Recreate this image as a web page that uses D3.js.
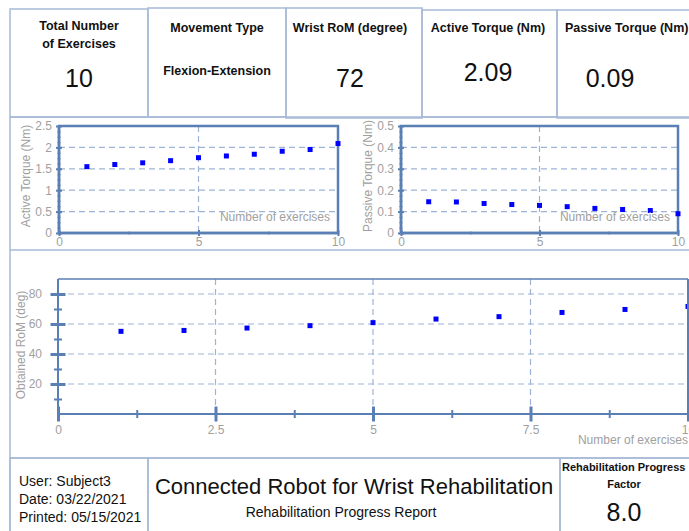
<!DOCTYPE html>
<html>
<head>
<meta charset="utf-8">
<script src="https://cdn.jsdelivr.net/npm/d3@7"></script>
<style>
  body { margin: 0; background: #fff; }
  text { font-family: "Liberation Sans", Arial, sans-serif; }
</style>
</head>
<body>
<div id="container"></div>
<script>
let width = 689;
let height = 531;

// data
let exercises = [1, 2, 3, 4, 5, 6, 7, 8, 9, 10];
let activeTorque = [1.55, 1.60, 1.64, 1.69, 1.76, 1.80, 1.84, 1.91, 1.95, 2.09];
let passiveTorque = [0.146, 0.145, 0.138, 0.133, 0.129, 0.123, 0.115, 0.110, 0.105, 0.090];
let obtainedRom = [55.1, 55.7, 57.3, 58.9, 60.9, 63.3, 64.9, 67.7, 69.7, 71.7];

let cardTitles = [["Total Number", "of Exercises"], ["Movement Type"], ["Wrist RoM (degree)"], ["Active Torque (Nm)"], ["Passive Torque (Nm)"]];
let cardValues = ["10", "Flexion-Extension", "72", "2.09", "0.09"];
let userInfo = ["User: Subject3", "Date: 03/22/2021", "Printed: 05/15/2021"];

let boxColor = '#a7bad6';
let axisColor = '#5a7fb4';
let gridColor = '#9db4d6';
let labelColor = '#a0a0a0';

let svg = d3.select("#container")
    .append("svg")
    .attr("width", width)
    .attr("height", height);

// ---- top cards
let cards = [
    { x0: 10, x1: 148, y0: 9, y1: 117 },
    { x0: 148, x1: 286, y0: 8, y1: 117 },
    { x0: 286, x1: 422, y0: 8, y1: 118 },
    { x0: 422, x1: 557, y0: 10, y1: 117 },
    { x0: 557, x1: 700, y0: 10, y1: 118 }
];
let centers = [79, 217, 350, 488, 610];

cards.forEach((c, i) => {
    svg.append('rect')
        .attr('x', c.x0).attr('y', c.y0)
        .attr('width', c.x1 - c.x0).attr('height', c.y1 - c.y0)
        .attr('fill', 'none').attr('stroke', boxColor).attr('stroke-width', 1.5);
    let lines = cardTitles[i];
    lines.forEach((t, j) => {
        svg.append('text')
            .attr('x', i == 4 ? 565 : centers[i])
            .attr('y', (lines.length > 1 ? 30 : 32) + j * 18)
            .attr('text-anchor', i == 4 ? 'start' : 'middle')
            .attr('font-size', 12.5).attr('font-weight', 'bold').attr('fill', '#111')
            .text(t);
    });
    svg.append('text')
        .attr('x', centers[i])
        .attr('y', i == 1 ? 75 : (i == 3 ? 81 : 87))
        .attr('text-anchor', 'middle')
        .attr('font-size', i == 1 ? 12.5 : 25)
        .attr('font-weight', i == 1 ? 'bold' : 'normal')
        .attr('fill', '#111')
        .text(cardValues[i]);
});

// ---- frame lines
svg.append('line').attr('x1', 10).attr('x2', 10).attr('y1', 117).attr('y2', 531)
    .attr('stroke', boxColor).attr('stroke-width', 1.5);
[117, 250, 458].forEach(y => {
    svg.append('line').attr('x1', 10).attr('x2', 689).attr('y1', y).attr('y2', y)
        .attr('stroke', boxColor).attr('stroke-width', 1.5);
});

// ---- chart helper
function drawChart(cfg) {
    let x = d3.scaleLinear().domain(cfg.xDomain).range([cfg.left, cfg.right]);
    let y = d3.scaleLinear().domain(cfg.yDomain).range([cfg.bottom, cfg.top]);
    let g = svg.append('g');

    // grid
    g.selectAll('.hgrid').data(cfg.yGrid).enter().append('line')
        .attr('x1', cfg.left).attr('x2', cfg.right)
        .attr('y1', d => y(d)).attr('y2', d => y(d))
        .attr('stroke', gridColor).attr('stroke-width', 1.2).attr('stroke-dasharray', '6,4');
    g.selectAll('.vgrid').data(cfg.xGrid).enter().append('line')
        .attr('x1', d => x(d)).attr('x2', d => x(d))
        .attr('y1', cfg.top).attr('y2', cfg.bottom)
        .attr('stroke', gridColor).attr('stroke-width', 1.2).attr('stroke-dasharray', '6,4');

    // frame
    if (cfg.box) {
        g.append('rect')
            .attr('x', cfg.left).attr('y', cfg.top)
            .attr('width', cfg.right - cfg.left).attr('height', cfg.bottom - cfg.top)
            .attr('fill', 'none').attr('stroke', axisColor).attr('stroke-width', cfg.frameW);
    }

    // minor ticks
    let yMinor = d3.axisLeft(y).tickValues(cfg.yMinor).tickSize(cfg.minorLen).tickFormat('');
    g.append('g').attr('transform', `translate(${cfg.left + cfg.minorLen / 2},0)`).call(yMinor)
        .call(a => a.select('.domain').remove())
        .selectAll('line').attr('stroke', axisColor).attr('stroke-width', cfg.minorW);
    let xMinor = d3.axisBottom(x).tickValues(cfg.xMinor).tickSize(cfg.minorLen).tickFormat('');
    g.append('g').attr('transform', `translate(0,${cfg.bottom - cfg.minorLen / 2})`).call(xMinor)
        .call(a => a.select('.domain').remove())
        .selectAll('line').attr('stroke', axisColor).attr('stroke-width', cfg.minorW);

    // major ticks + labels
    let yAxis = d3.axisLeft(y).tickValues(cfg.yMajor).tickSize(cfg.majorLen).tickPadding(1)
        .tickFormat(cfg.yFmt);
    let ya = g.append('g').attr('transform', `translate(${cfg.left + cfg.majorLen / 2},0)`).call(yAxis);
    ya.select('.domain').remove();
    ya.selectAll('line').attr('stroke', axisColor).attr('stroke-width', cfg.majorW);
    ya.selectAll('text').attr('fill', labelColor).attr('font-size', cfg.fontSize)
        .attr('font-family', '"Liberation Sans", Arial, sans-serif')
        .attr('dx', -cfg.majorLen / 2);

    let xAxis = d3.axisBottom(x).tickValues(cfg.xMajor).tickSize(cfg.majorLen).tickPadding(cfg.xPad)
        .tickFormat(d => d);
    let xa = g.append('g').attr('transform', `translate(0,${cfg.bottom - cfg.majorLen / 2})`).call(xAxis);
    xa.select('.domain').remove();
    xa.selectAll('line').attr('stroke', axisColor).attr('stroke-width', cfg.majorW);
    xa.selectAll('text').attr('fill', labelColor).attr('font-size', cfg.fontSize)
        .attr('font-family', '"Liberation Sans", Arial, sans-serif');

    // axis lines
    g.append('line').attr('x1', cfg.left).attr('x2', cfg.left).attr('y1', cfg.top).attr('y2', cfg.bottom)
        .attr('stroke', axisColor).attr('stroke-width', cfg.frameW);
    g.append('line').attr('x1', cfg.left).attr('x2', cfg.right).attr('y1', cfg.bottom).attr('y2', cfg.bottom)
        .attr('stroke', axisColor).attr('stroke-width', cfg.frameW);
    g.append('line').attr('x1', cfg.left).attr('x2', cfg.right).attr('y1', cfg.top).attr('y2', cfg.top)
        .attr('stroke', axisColor).attr('stroke-width', cfg.frameW - 0.5);

    // points
    g.selectAll('.pt').data(cfg.values).enter().append('rect')
        .attr('x', (d, i) => x(exercises[i]) - 2.5)
        .attr('y', d => y(d) - 2.5)
        .attr('width', 5).attr('height', 5)
        .attr('fill', '#0000ff');

    // titles
    g.append('text')
        .attr('transform', `translate(${cfg.yTitleX},${cfg.yTitleY}) rotate(-90)`)
        .attr('text-anchor', 'middle')
        .attr('font-size', cfg.fontSize).attr('fill', labelColor)
        .text(cfg.yTitle);
    g.append('text')
        .attr('x', cfg.xTitleX).attr('y', cfg.xTitleY)
        .attr('text-anchor', 'end')
        .attr('font-size', cfg.fontSize).attr('fill', labelColor)
        .text('Number of exercises');
}

drawChart({
    left: 59, right: 338, top: 126, bottom: 233,
    xDomain: [0, 10], yDomain: [0, 2.5],
    xMajor: [0, 5, 10], xMinor: [2.5, 7.5],
    yMajor: [0, 0.5, 1, 1.5, 2, 2.5], yMinor: d3.range(0, 2.5, 0.125),
    xGrid: [5], yGrid: [0.5, 1, 1.5, 2],
    yFmt: d => d, majorLen: 6, minorLen: 3, majorW: 2, minorW: 1.2, frameW: 2.5,
    fontSize: 12, xPad: 1, box: true,
    values: activeTorque,
    yTitle: 'Active Torque (Nm)', yTitleX: 30, yTitleY: 176,
    xTitleX: 330, xTitleY: 221
});

drawChart({
    left: 401, right: 678, top: 126, bottom: 233,
    xDomain: [0, 10], yDomain: [0, 0.5],
    xMajor: [0, 5, 10], xMinor: [2.5, 7.5],
    yMajor: [0, 0.1, 0.2, 0.3, 0.4, 0.5], yMinor: d3.range(0, 0.5, 0.025),
    xGrid: [5], yGrid: [0.1, 0.2, 0.3, 0.4],
    yFmt: d => d, majorLen: 6, minorLen: 3, majorW: 2, minorW: 1.2, frameW: 2.5,
    fontSize: 12, xPad: 1, box: true,
    values: passiveTorque,
    yTitle: 'Passive Torque (Nm)', yTitleX: 372, yTitleY: 176,
    xTitleX: 670, xTitleY: 221
});

drawChart({
    left: 58, right: 688, top: 279, bottom: 414,
    xDomain: [0, 10], yDomain: [0, 90],
    xMajor: [0, 2.5, 5, 7.5, 10], xMinor: [1.25, 3.75, 6.25, 8.75],
    yMajor: [20, 40, 60, 80], yMinor: [10, 30, 50, 70],
    xGrid: [2.5, 5, 7.5], yGrid: [20, 40, 60, 80],
    yFmt: d => d, majorLen: 15, minorLen: 8, majorW: 3, minorW: 2, frameW: 2,
    fontSize: 12, xPad: 4, box: false,
    values: obtainedRom,
    yTitle: 'Obtained RoM (deg)', yTitleX: 25, yTitleY: 345,
    xTitleX: 688, xTitleY: 444
});
// right edge of the RoM plot
svg.append('line').attr('x1', 688).attr('x2', 688).attr('y1', 279).attr('y2', 414)
    .attr('stroke', axisColor).attr('stroke-width', 2);

// ---- bottom boxes
[[10, 148], [148, 560], [560, 700]].forEach(b => {
    svg.append('rect').attr('x', b[0]).attr('y', 458).attr('width', b[1] - b[0]).attr('height', 90)
        .attr('fill', 'none').attr('stroke', boxColor).attr('stroke-width', 1.5);
});

svg.selectAll('.user').data(userInfo).enter().append('text')
    .attr('x', 19).attr('y', (d, i) => 486 + i * 18)
    .attr('font-size', 14).attr('fill', '#111')
    .text(d => d);

svg.append('text').attr('x', 354).attr('y', 494).attr('text-anchor', 'middle')
    .attr('font-size', 22).attr('fill', '#111').text('Connected Robot for Wrist Rehabilitation');
svg.append('text').attr('x', 341).attr('y', 517).attr('text-anchor', 'middle')
    .attr('font-size', 14).attr('fill', '#111').text('Rehabilitation Progress Report');

svg.append('text').attr('x', 562).attr('y', 471)
    .attr('font-size', 11).attr('font-weight', 'bold').attr('fill', '#111').text('Rehabilitation Progress');
svg.append('text').attr('x', 624).attr('y', 488).attr('text-anchor', 'middle')
    .attr('font-size', 11).attr('font-weight', 'bold').attr('fill', '#111').text('Factor');
svg.append('text').attr('x', 624).attr('y', 521).attr('text-anchor', 'middle')
    .attr('font-size', 25).attr('fill', '#111').text('8.0');
</script>
</body>
</html>
